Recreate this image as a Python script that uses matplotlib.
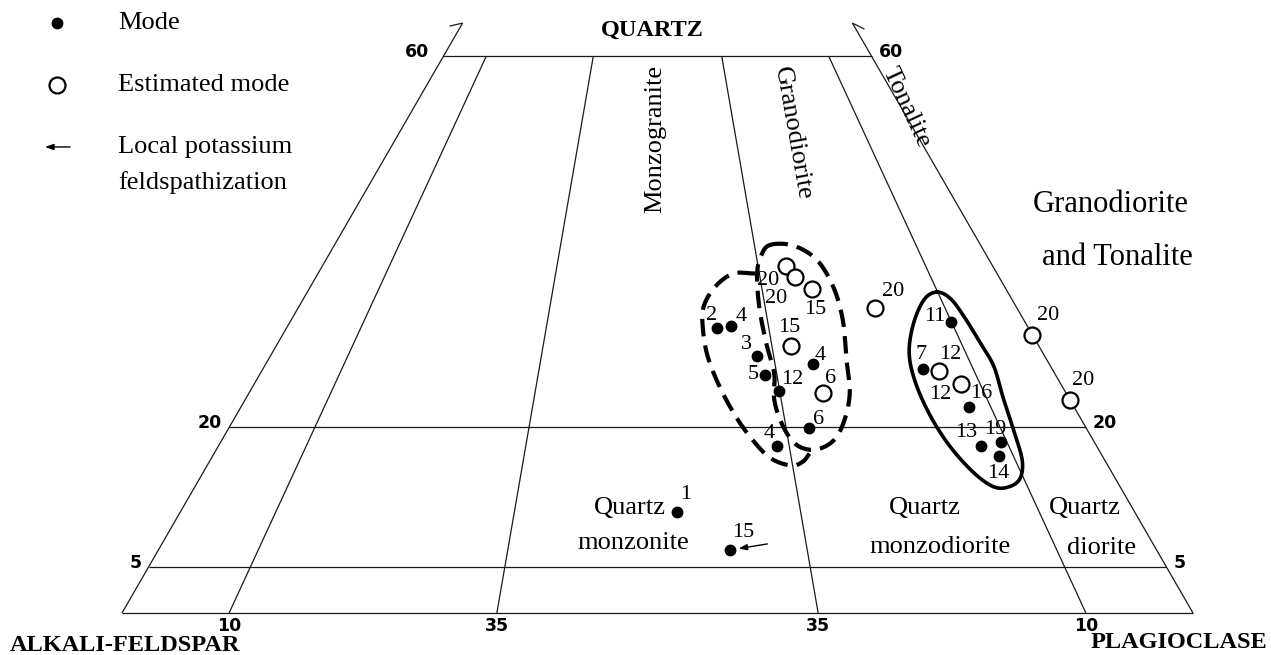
import numpy as np
import matplotlib
matplotlib.use("Agg")
import matplotlib.pyplot as plt

# Modal analyses (volume %): quartz, alkali feldspar, plagioclase
mode_q = [30.7, 30.9, 27.7, 25.7, 23.9, 26.8, 19.9, 18.0, 31.4, 26.3, 22.2, 18.0, 18.4, 16.9, 10.9, 6.8]
mode_a = [29.1, 27.7, 26.9, 27.1, 26.7, 22.1, 25.9, 29.8, 6.9, 12.1, 9.8, 10.8, 8.7, 9.7, 42.7, 39.8]
mode_p = [40.2, 41.4, 45.4, 47.2, 49.4, 51.1, 54.2, 52.2, 61.7, 61.6, 68.0, 71.2, 72.9, 73.4, 46.4, 53.4]
mode_id = ["2", "4", "3", "5", "12", "4", "6", "4", "11", "7", "16", "13", "19", "14", "1", "15"]
k_spar_altered = ["15"]

# Estimated modes
est_q = [37.4, 36.2, 34.9, 28.8, 23.7, 32.9, 26.1, 24.7, 30.0, 23.0]
est_a = [19.3, 19.1, 18.1, 23.1, 22.7, 13.2, 10.7, 9.3, 0.0, 0.0]
est_p = [43.3, 44.7, 47.0, 48.1, 53.6, 53.9, 63.2, 66.0, 70.0, 77.0]
est_id = ["20", "20", "15", "15", "6", "20", "12", "12", "20", "20"]

# Field outlines (Q, P in %); the western one shares its east side with the middle one
dashed_left_q = [36.6, 36.6, 35.2, 33.0, 30.5, 27.6, 24.4, 21.2, 18.7, 16.7, 15.9, 16.3, 17.2]
dashed_left_p = [40.8, 38.8, 37.8, 37.8, 39.0, 40.9, 43.6, 46.7, 49.5, 52.2, 54.5, 55.4, 55.6]
dashed_right_q = [39.7, 39.6, 38.1, 35.2, 31.6, 27.3, 23.7, 20.6, 18.5, 17.6, 18.2, 20.3, 23.0, 25.8, 29.1, 33.0, 36.6, 38.6]
dashed_right_p = [40.7, 42.9, 45.8, 48.8, 51.5, 54.0, 56.1, 57.1, 57.1, 55.8, 53.8, 51.5, 49.4, 48.0, 45.6, 43.0, 41.0, 40.4]
solid_q = [34.6, 33.9, 32.0, 29.1, 26.6, 23.3, 19.7, 16.5, 14.5, 13.6, 13.6, 15.1, 17.9, 21.2, 24.8, 28.0, 31.2, 33.8]
solid_p = [58.8, 60.4, 62.6, 65.6, 68.1, 70.6, 73.4, 75.8, 76.6, 76.0, 74.6, 72.0, 68.4, 64.9, 61.7, 59.5, 58.3, 58.0]

# Classification grid
q_levels = [5, 20, 60]
plag_ratios = [10, 35, 65, 90]
ratio_labels = ["10", "35", "35", "10"]

# Label offsets (pixels) for the sample numbers
mode_offsets = [(-5, 13), (10, 10), (-10, 12), (-12, 0), (13, 12), (7, 9), (10, 9), (-8, 13),
                (-16, 5), (-2, 15), (12, 14), (-15, 14), (-6, 13), (0, -17), (8, 17), (13, 17)]
est_offsets = [(-18, -14), (-18, -21), (3, -20), (-2, 18), (8, 15), (18, 16), (12, 16), (-21, -11),
               (16, 19), (13, 19)]

SERIF = "Liberation Serif"
SQ3 = np.sqrt(3) / 2
S = 10.71  # pixels per percent


def tern(q, p):
    q = np.asarray(q, dtype=float)
    p = np.asarray(p, dtype=float)
    return p + q / 2, q * SQ3


def catmull_rom(x, y, closed=True, n=24):
    pts = np.column_stack([x, y])
    if not closed:
        pts = np.vstack([2 * pts[0] - pts[1], pts, 2 * pts[-1] - pts[-2]])
    m = len(pts)
    t = np.linspace(0, 1, n, endpoint=False)[:, None]
    idx = range(m) if closed else range(1, m - 2)
    segs = []
    for i in idx:
        p0, p1, p2, p3 = pts[(i - 1) % m], pts[i], pts[(i + 1) % m], pts[(i + 2) % m]
        segs.append(0.5 * (2 * p1 + (p2 - p0) * t + (2 * p0 - 5 * p1 + 4 * p2 - p3) * t ** 2
                           + (3 * p1 - p0 - 3 * p2 + p3) * t ** 3))
    last = segs[0][:1] if closed else pts[-2][None, :]
    out = np.vstack(segs + [last])
    return out[:, 0], out[:, 1]


fig = plt.figure(figsize=(12.71, 6.55), dpi=100)
ax = fig.add_axes([0, 0, 1, 1])
ax.set_xlim(-122 / S, (1271 - 122) / S)
ax.set_ylim((613 - 655) / S, 613 / S)
ax.axis("off")

grid_kw = dict(color="#1a1a1a", lw=0.9, solid_capstyle="butt")
tick_kw = dict(fontsize=12.5, fontweight="bold", family="DejaVu Sans", textcoords="offset pixels")

# outer edges, carried a little above Q = 60 with a small hook
for p_end, hook in ((0, (-13, -3)), (1, (12, -6))):
    x0, y0 = tern(0, 100 * p_end)
    x1, y1 = tern(63.6, 36.4 * p_end)
    ax.plot([x0, x1], [y0, y1], **grid_kw)
    ax.plot([x1, x1 + hook[0] / S], [y1, y1 + hook[1] / S], **grid_kw)

# base and horizontal quartz lines
x0, y0 = tern(0, 0)
x1, y1 = tern(0, 100)
ax.plot([x0, x1], [y0, y1], **grid_kw)
for q in q_levels:
    x0, y0 = tern(q, 0)
    x1, y1 = tern(q, 100 - q)
    ax.plot([x0, x1], [y0, y1], **grid_kw)
    ax.annotate(str(q), (x0, y0), xytext=(-7 if q < 60 else -14, 4), ha="right", va="center", **tick_kw)
    ax.annotate(str(q), (x1, y1), xytext=(7, 4), ha="left", va="center", **tick_kw)

# plagioclase / total feldspar ratio lines
for r, lab in zip(plag_ratios, ratio_labels):
    x0, y0 = tern(0, r)
    x1, y1 = tern(60, r * 0.4)
    ax.plot([x0, x1], [y0, y1], **grid_kw)
    ax.annotate(lab, (x0, y0), xytext=(0, -13), ha="center", va="center", **tick_kw)

# field outlines
dash = dict(color="black", lw=3.0, ls=(0, (4.2, 2.2)))
x, y = catmull_rom(*tern(dashed_right_q, dashed_right_p))
ax.plot(x, y, **dash)
x, y = catmull_rom(*tern(dashed_left_q, dashed_left_p), closed=False)
ax.plot(x, y, **dash)
x, y = catmull_rom(*tern(solid_q, solid_p))
ax.plot(x, y, color="black", lw=2.6)

# samples
mx, my = tern(mode_q, mode_p)
ax.plot(mx, my, "o", ms=7.5, color="black", zorder=4)
for xi, yi, lab, off in zip(mx, my, mode_id, mode_offsets):
    ax.annotate(lab, (xi, yi), xytext=off, textcoords="offset pixels", ha="center", va="center",
                fontsize=16, family=SERIF)
    if lab in k_spar_altered and yi < 7:
        ax.annotate("", (xi, yi), xytext=(37, 6), textcoords="offset pixels",
                    arrowprops=dict(arrowstyle="-|>,head_length=0.5,head_width=0.18",
                                    color="black", lw=1.0, shrinkA=0, shrinkB=6))

ex, ey = tern(est_q, est_p)
ax.plot(ex, ey, "o", ms=11.5, mfc="white", mec="black", mew=1.6, zorder=4)
for xi, yi, lab, off in zip(ex, ey, est_id, est_offsets):
    ax.annotate(lab, (xi, yi), xytext=off, textcoords="offset pixels", ha="center", va="center",
                fontsize=16, family=SERIF)

# field names
txt = dict(family=SERIF, fontsize=19, ha="center", va="center")
ax.text(49.8, 44.3, "Monzogranite", rotation=90, **txt)
ax.text(62.6, 44.8, "Granodiorite", rotation=-80, **txt)
ax.text(73.2, 47.2, "Tonalite", rotation=-65, **txt)
ax.text(92.3, 38.1, "Granodiorite", **dict(txt, fontsize=22))
ax.text(92.9, 33.2, "and Tonalite", **dict(txt, fontsize=22))
ax.text(47.4, 9.8, "Quartz", **txt)
ax.text(47.7, 6.5, "monzonite", **txt)
ax.text(75.0, 9.8, "Quartz", **txt)
ax.text(76.4, 6.2, "monzodiorite", **txt)
ax.text(89.9, 9.8, "Quartz", **txt)
ax.text(91.5, 6.1, "diorite", **txt)

# corner names
corner = dict(family=SERIF, fontsize=17.5, fontweight="bold", va="center")
ax.text(49.5, 54.4, "QUARTZ", ha="center", **corner)
ax.text(-10.5, -3.0, "ALKALI-FELDSPAR", ha="left", **corner)
ax.text(106.9, -2.8, "PLAGIOCLASE", ha="right", **corner)

# key
ax.plot([0.0448], [0.9649], "o", ms=7.5, color="black", transform=ax.transAxes)
ax.plot([0.0448], [0.8702], "o", ms=11.5, mfc="white", mec="black", mew=1.6, transform=ax.transAxes)
ax.annotate("", (0.0354, 0.7756), xytext=(0.0551, 0.7756), xycoords="axes fraction",
            textcoords="axes fraction",
            arrowprops=dict(arrowstyle="-|>,head_length=0.5,head_width=0.18", color="black",
                            lw=1.0, shrinkA=0, shrinkB=0))
key = dict(family=SERIF, fontsize=19, ha="left", va="center", transform=ax.transAxes)
ax.text(0.0928, 0.9649, "Mode", **key)
ax.text(0.0928, 0.8702, "Estimated mode", **key)
ax.text(0.0928, 0.7756, "Local potassium", **key)
ax.text(0.0928, 0.7206, "feldspathization", **key)

fig.savefig("out.png", dpi=100)
